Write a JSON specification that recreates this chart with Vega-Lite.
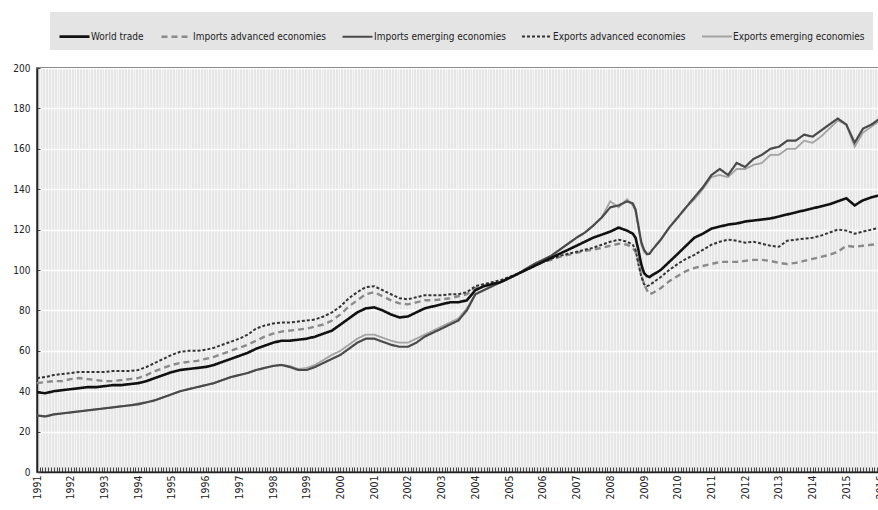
{
  "$schema": "https://vega.github.io/schema/vega-lite/v6.json",
  "width": 843,
  "height": 404,
  "autosize": "none",
  "padding": {"left": 37, "top": 68, "right": 0, "bottom": 38},
  "background": "white",
  "config": {
    "font": "DejaVu Sans Condensed, Liberation Sans, sans-serif",
    "view": {"fill": "#e6e6e6", "stroke": "#333333", "strokeWidth": 1.5}
  },
  "data": {
    "values": [
      {"d": "1991-01-01", "wt": 39.5, "ia": 44, "ie": 28, "ea": 46.5, "ee": 28},
      {"d": "1991-04-01", "wt": 39, "ia": 44.5, "ie": 27.5, "ea": 47, "ee": 27.5},
      {"d": "1991-07-01", "wt": 40, "ia": 45, "ie": 28.5, "ea": 48, "ee": 28.5},
      {"d": "1991-10-01", "wt": 40.5, "ia": 45, "ie": 29, "ea": 48.5, "ee": 29},
      {"d": "1992-01-01", "wt": 41, "ia": 46, "ie": 29.5, "ea": 49, "ee": 29.5},
      {"d": "1992-04-01", "wt": 41.5, "ia": 46.5, "ie": 30, "ea": 49.5, "ee": 30},
      {"d": "1992-07-01", "wt": 42, "ia": 46, "ie": 30.5, "ea": 49.5, "ee": 30.5},
      {"d": "1992-10-01", "wt": 42, "ia": 45.5, "ie": 31, "ea": 49.5, "ee": 31},
      {"d": "1993-01-01", "wt": 42.5, "ia": 45, "ie": 31.5, "ea": 49.5, "ee": 31.5},
      {"d": "1993-04-01", "wt": 43, "ia": 45, "ie": 32, "ea": 50, "ee": 32},
      {"d": "1993-07-01", "wt": 43, "ia": 45.5, "ie": 32.5, "ea": 50, "ee": 32.5},
      {"d": "1993-10-01", "wt": 43.5, "ia": 46, "ie": 33, "ea": 50, "ee": 33},
      {"d": "1994-01-01", "wt": 44, "ia": 46.5, "ie": 33.5, "ea": 50.5, "ee": 34},
      {"d": "1994-04-01", "wt": 45, "ia": 48, "ie": 34.5, "ea": 52, "ee": 34.5},
      {"d": "1994-07-01", "wt": 46.5, "ia": 50, "ie": 35.5, "ea": 54, "ee": 35.5},
      {"d": "1994-10-01", "wt": 48, "ia": 51.5, "ie": 37, "ea": 56, "ee": 37},
      {"d": "1995-01-01", "wt": 49.5, "ia": 53, "ie": 38.5, "ea": 58, "ee": 38.5},
      {"d": "1995-04-01", "wt": 50.5, "ia": 54, "ie": 40, "ea": 59.5, "ee": 40},
      {"d": "1995-07-01", "wt": 51, "ia": 54.5, "ie": 41, "ea": 60, "ee": 41},
      {"d": "1995-10-01", "wt": 51.5, "ia": 55, "ie": 42, "ea": 60, "ee": 42},
      {"d": "1996-01-01", "wt": 52, "ia": 56, "ie": 43, "ea": 60.5, "ee": 43},
      {"d": "1996-04-01", "wt": 53, "ia": 57, "ie": 44, "ea": 61.5, "ee": 44},
      {"d": "1996-07-01", "wt": 54.5, "ia": 58.5, "ie": 45.5, "ea": 63, "ee": 45.5},
      {"d": "1996-10-01", "wt": 56, "ia": 60, "ie": 47, "ea": 64.5, "ee": 47},
      {"d": "1997-01-01", "wt": 57.5, "ia": 61.5, "ie": 48, "ea": 66, "ee": 48},
      {"d": "1997-04-01", "wt": 59, "ia": 63, "ie": 49, "ea": 68, "ee": 49},
      {"d": "1997-07-01", "wt": 61, "ia": 65, "ie": 50.5, "ea": 71, "ee": 50.5},
      {"d": "1997-10-01", "wt": 62.5, "ia": 67, "ie": 51.5, "ea": 72.5, "ee": 51.5},
      {"d": "1998-01-01", "wt": 64, "ia": 68.5, "ie": 52.5, "ea": 73.5, "ee": 52.5},
      {"d": "1998-04-01", "wt": 65, "ia": 69.5, "ie": 53, "ea": 74, "ee": 53},
      {"d": "1998-07-01", "wt": 65, "ia": 70, "ie": 52, "ea": 74, "ee": 52.5},
      {"d": "1998-10-01", "wt": 65.5, "ia": 70.5, "ie": 50.5, "ea": 74.5, "ee": 51},
      {"d": "1999-01-01", "wt": 66, "ia": 71, "ie": 50.5, "ea": 75, "ee": 51.5},
      {"d": "1999-04-01", "wt": 67, "ia": 72, "ie": 52, "ea": 75.5, "ee": 53},
      {"d": "1999-07-01", "wt": 68.5, "ia": 73, "ie": 54, "ea": 77, "ee": 55.5},
      {"d": "1999-10-01", "wt": 70, "ia": 75, "ie": 56, "ea": 79, "ee": 58},
      {"d": "2000-01-01", "wt": 73, "ia": 78, "ie": 58, "ea": 82, "ee": 60},
      {"d": "2000-04-01", "wt": 76, "ia": 82, "ie": 61, "ea": 86, "ee": 63},
      {"d": "2000-07-01", "wt": 79, "ia": 85, "ie": 64, "ea": 89, "ee": 66},
      {"d": "2000-10-01", "wt": 81, "ia": 88, "ie": 66, "ea": 91.5, "ee": 68},
      {"d": "2001-01-01", "wt": 81.5, "ia": 89, "ie": 66, "ea": 92, "ee": 68},
      {"d": "2001-04-01", "wt": 80, "ia": 87, "ie": 64.5, "ea": 90, "ee": 66.5},
      {"d": "2001-07-01", "wt": 78, "ia": 85, "ie": 63, "ea": 88, "ee": 65},
      {"d": "2001-10-01", "wt": 76.5, "ia": 83.5, "ie": 62, "ea": 86, "ee": 64},
      {"d": "2002-01-01", "wt": 77, "ia": 83, "ie": 62, "ea": 85.5, "ee": 64},
      {"d": "2002-04-01", "wt": 79, "ia": 84, "ie": 64, "ea": 86.5, "ee": 66},
      {"d": "2002-07-01", "wt": 81, "ia": 85, "ie": 67, "ea": 87.5, "ee": 68},
      {"d": "2002-10-01", "wt": 82, "ia": 85, "ie": 69, "ea": 87.5, "ee": 70},
      {"d": "2003-01-01", "wt": 83, "ia": 85.5, "ie": 71, "ea": 87.5, "ee": 72},
      {"d": "2003-04-01", "wt": 84, "ia": 86, "ie": 73, "ea": 88, "ee": 74},
      {"d": "2003-07-01", "wt": 84, "ia": 87, "ie": 75, "ea": 88, "ee": 76},
      {"d": "2003-10-01", "wt": 85, "ia": 88, "ie": 80, "ea": 89, "ee": 81},
      {"d": "2004-01-01", "wt": 90, "ia": 91, "ie": 88, "ea": 92, "ee": 88},
      {"d": "2004-04-01", "wt": 92, "ia": 92, "ie": 90, "ea": 93, "ee": 90},
      {"d": "2004-07-01", "wt": 93, "ia": 93, "ie": 92, "ea": 94, "ee": 92},
      {"d": "2004-10-01", "wt": 94, "ia": 94, "ie": 94, "ea": 95, "ee": 94},
      {"d": "2005-01-01", "wt": 96, "ia": 96, "ie": 96, "ea": 96.5, "ee": 96},
      {"d": "2005-04-01", "wt": 98, "ia": 98, "ie": 98, "ea": 98, "ee": 98},
      {"d": "2005-07-01", "wt": 100, "ia": 100, "ie": 100.5, "ea": 100, "ee": 100.5},
      {"d": "2005-10-01", "wt": 102, "ia": 102, "ie": 103, "ea": 102, "ee": 103},
      {"d": "2006-01-01", "wt": 104, "ia": 104, "ie": 105, "ea": 104, "ee": 105},
      {"d": "2006-04-01", "wt": 106, "ia": 105, "ie": 107, "ea": 105.5, "ee": 107},
      {"d": "2006-07-01", "wt": 108, "ia": 106.5, "ie": 110, "ea": 107, "ee": 110},
      {"d": "2006-10-01", "wt": 110, "ia": 107.5, "ie": 113, "ea": 108, "ee": 113},
      {"d": "2007-01-01", "wt": 112, "ia": 108.5, "ie": 116, "ea": 109, "ee": 116},
      {"d": "2007-04-01", "wt": 114, "ia": 109.5, "ie": 118.5, "ea": 110, "ee": 118.5},
      {"d": "2007-07-01", "wt": 116, "ia": 110, "ie": 122, "ea": 111, "ee": 122},
      {"d": "2007-10-01", "wt": 117.5, "ia": 111, "ie": 126, "ea": 112.5, "ee": 126},
      {"d": "2008-01-01", "wt": 119, "ia": 112, "ie": 131, "ea": 114, "ee": 134},
      {"d": "2008-04-01", "wt": 121, "ia": 113, "ie": 132, "ea": 115, "ee": 131},
      {"d": "2008-07-01", "wt": 119.5, "ia": 112.5, "ie": 134, "ea": 114, "ee": 135},
      {"d": "2008-09-01", "wt": 118, "ia": 111, "ie": 133, "ea": 112.5, "ee": 132},
      {"d": "2008-10-01", "wt": 116, "ia": 109, "ie": 130, "ea": 110, "ee": 129},
      {"d": "2008-11-01", "wt": 110, "ia": 104, "ie": 122, "ea": 103, "ee": 121},
      {"d": "2008-12-01", "wt": 103, "ia": 98, "ie": 114, "ea": 97, "ee": 113},
      {"d": "2009-01-01", "wt": 98.5, "ia": 93, "ie": 110, "ea": 93, "ee": 109},
      {"d": "2009-02-01", "wt": 97, "ia": 90, "ie": 108, "ea": 92, "ee": 107.5},
      {"d": "2009-03-01", "wt": 96.5, "ia": 88, "ie": 108, "ea": 92.5, "ee": 108},
      {"d": "2009-04-01", "wt": 97.5, "ia": 88.5, "ie": 110, "ea": 93.5, "ee": 110},
      {"d": "2009-07-01", "wt": 100, "ia": 91, "ie": 115, "ea": 96.5, "ee": 115},
      {"d": "2009-10-01", "wt": 104, "ia": 94.5, "ie": 121, "ea": 100, "ee": 121},
      {"d": "2010-01-01", "wt": 108, "ia": 97, "ie": 126, "ea": 103, "ee": 126},
      {"d": "2010-04-01", "wt": 112, "ia": 99.5, "ie": 131, "ea": 105.5, "ee": 131},
      {"d": "2010-07-01", "wt": 116, "ia": 101, "ie": 136, "ea": 107.5, "ee": 135},
      {"d": "2010-10-01", "wt": 118, "ia": 102, "ie": 141, "ea": 110, "ee": 140},
      {"d": "2011-01-01", "wt": 120.5, "ia": 103, "ie": 147, "ea": 112.5, "ee": 146},
      {"d": "2011-04-01", "wt": 121.5, "ia": 104, "ie": 150, "ea": 114, "ee": 147},
      {"d": "2011-07-01", "wt": 122.5, "ia": 104, "ie": 147, "ea": 115, "ee": 146},
      {"d": "2011-10-01", "wt": 123, "ia": 104, "ie": 153, "ea": 114.5, "ee": 150},
      {"d": "2012-01-01", "wt": 124, "ia": 104.5, "ie": 151, "ea": 113.5, "ee": 150},
      {"d": "2012-04-01", "wt": 124.5, "ia": 105, "ie": 155, "ea": 114, "ee": 152},
      {"d": "2012-07-01", "wt": 125, "ia": 105, "ie": 157, "ea": 113, "ee": 153},
      {"d": "2012-10-01", "wt": 125.5, "ia": 104.5, "ie": 160, "ea": 112, "ee": 157},
      {"d": "2013-01-01", "wt": 126.5, "ia": 103.5, "ie": 161, "ea": 111.5, "ee": 157},
      {"d": "2013-04-01", "wt": 127.5, "ia": 103, "ie": 164, "ea": 114.5, "ee": 160},
      {"d": "2013-07-01", "wt": 128.5, "ia": 103.5, "ie": 164, "ea": 115, "ee": 160},
      {"d": "2013-10-01", "wt": 129.5, "ia": 104.5, "ie": 167, "ea": 115.5, "ee": 164},
      {"d": "2014-01-01", "wt": 130.5, "ia": 105.5, "ie": 166, "ea": 116, "ee": 163},
      {"d": "2014-04-01", "wt": 131.5, "ia": 106.5, "ie": 169, "ea": 117, "ee": 166},
      {"d": "2014-07-01", "wt": 132.5, "ia": 107.5, "ie": 172, "ea": 118.5, "ee": 170},
      {"d": "2014-10-01", "wt": 134, "ia": 109, "ie": 175, "ea": 120, "ee": 174},
      {"d": "2015-01-01", "wt": 135.5, "ia": 112, "ie": 172, "ea": 119.5, "ee": 172},
      {"d": "2015-04-01", "wt": 132, "ia": 111.5, "ie": 163, "ea": 118, "ee": 161},
      {"d": "2015-07-01", "wt": 134.5, "ia": 112, "ie": 170, "ea": 119, "ee": 168},
      {"d": "2015-10-01", "wt": 136, "ia": 112.5, "ie": 172, "ea": 120, "ee": 171},
      {"d": "2016-01-01", "wt": 137, "ia": 113, "ie": 175, "ea": 121, "ee": 174}
    ]
  },
  "transform": [
    {"fold": ["ee", "ie", "ia", "ea", "wt"], "as": ["s", "v"]}
  ],
  "mark": {"type": "line"},
  "encoding": {
    "x": {
      "field": "d",
      "type": "temporal",
      "scale": {
        "type": "utc",
        "domain": [
          {"year": 1991, "month": 1, "date": 1, "utc": true},
          {"year": 2016, "month": 1, "date": 1, "utc": true}
        ]
      },
      "axis": {
        "title": null,
        "tickCount": {"interval": "month", "step": 1},
        "labelExpr": "utcmonth(datum.value) == 0 ? utcFormat(datum.value, '%Y') : ''",
        "labelAngle": 270,
        "labelAlign": "right",
        "labelBaseline": "middle",
        "labelFlush": false,
        "labelOverlap": false,
        "labelPadding": 8,
        "labelFontSize": 10.5,
        "labelColor": "#222222",
        "tickSize": -5,
        "tickColor": "#444444",
        "domainColor": "#222222",
        "domainWidth": 1.5,
        "grid": true,
        "gridColor": "#ffffff",
        "gridOpacity": 0.6,
        "gridWidth": 1
      }
    },
    "y": {
      "field": "v",
      "type": "quantitative",
      "scale": {"domain": [0, 200]},
      "axis": {
        "title": null,
        "values": [0, 20, 40, 60, 80, 100, 120, 140, 160, 180, 200],
        "labelFontSize": 10,
        "labelColor": "#222222",
        "labelPadding": 10,
        "tickSize": -3,
        "tickColor": "#444444",
        "domainColor": "#222222",
        "domainWidth": 1.5,
        "gridColor": "#ffffff",
        "gridWidth": 1.5
      }
    },
    "color": {
      "field": "s",
      "type": "nominal",
      "scale": {
        "domain": ["wt", "ia", "ie", "ea", "ee"],
        "range": ["#111111", "#8a8a8a", "#4a4a4a", "#333333", "#a3a3a3"]
      },
      "legend": {
        "title": null,
        "orient": "none",
        "legendX": 13,
        "legendY": -56,
        "direction": "horizontal",
        "fillColor": "#e4e4e4",
        "padding": 8,
        "symbolType": "stroke",
        "symbolSize": 900,
        "symbolStrokeWidth": 2.5,
        "labelFontSize": 10,
        "labelColor": "#222222",
        "labelOffset": 0,
        "columnPadding": 12,
        "labelExpr": "datum.label == 'wt' ? 'World trade' : datum.label == 'ia' ? 'Imports advanced economies' : datum.label == 'ie' ? 'Imports emerging economies' : datum.label == 'ea' ? 'Exports advanced economies' : 'Exports emerging economies'"
      }
    },
    "strokeDash": {
      "field": "s",
      "type": "nominal",
      "scale": {
        "domain": ["wt", "ia", "ie", "ea", "ee"],
        "range": [[1, 0], [6, 4], [1, 0], [3, 2], [1, 0]]
      }
    },
    "strokeWidth": {
      "field": "s",
      "type": "nominal",
      "scale": {
        "domain": ["wt", "ia", "ie", "ea", "ee"],
        "range": [2.6, 1.8, 2, 2, 2]
      },
      "legend": null
    }
  }
}
